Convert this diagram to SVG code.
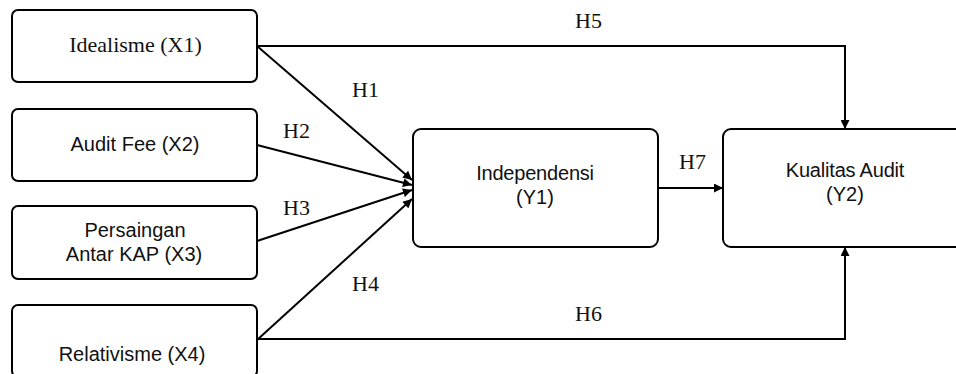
<svg xmlns="http://www.w3.org/2000/svg" width="956" height="374" viewBox="0 0 956 374">
  <defs>
    <marker id="arrow" viewBox="0 0 10 10" refX="10" refY="5" markerWidth="10" markerHeight="9" markerUnits="userSpaceOnUse" orient="auto">
      <path d="M0,0 L10,5 L0,10 Z" fill="#000"/>
    </marker>
    <style>
      .box { fill: #fff; stroke: #000; stroke-width: 2; }
      .sans { font-family: "Liberation Sans", Arial, sans-serif; font-size: 20px; fill: #111; text-anchor: middle; }
      .serif { font-family: "Liberation Serif", "Times New Roman", serif; font-size: 22px; fill: #111; }
      .mid { text-anchor: middle; }
      .edge { fill: none; stroke: #000; stroke-width: 2; marker-end: url(#arrow); }
    </style>
  </defs>
  <rect width="956" height="374" fill="#fff"/>

  <!-- connectors -->
  <g id="connectors">
    <path class="edge" d="M257,46 L412,180"/>
    <path class="edge" d="M257,145 L412,185"/>
    <path class="edge" d="M257,241 L412,190"/>
    <path class="edge" d="M257,340 L412,199"/>
    <path class="edge" d="M257,46 L845,46 L845,129"/>
    <path class="edge" d="M257,339 L845,339 L845,247"/>
    <path class="edge" d="M658,188 L723,188"/>
    <text class="serif" x="352" y="97">H1</text>
    <text class="serif" x="283" y="138">H2</text>
    <text class="serif" x="283" y="215">H3</text>
    <text class="serif" x="352" y="291">H4</text>
    <text class="serif" x="575" y="28">H5</text>
    <text class="serif" x="575" y="321">H6</text>
    <text class="serif" x="679" y="169">H7</text>
  </g>

  <!-- nodes -->
  <g id="x1">
    <rect class="box" x="12" y="10" width="245" height="72" rx="6"/>
    <text class="serif mid" x="135.5" y="52">Idealisme (X1)</text>
  </g>
  <g id="x2">
    <rect class="box" x="12" y="109" width="245" height="72" rx="6"/>
    <text class="sans" x="135" y="151">Audit Fee (X2)</text>
  </g>
  <g id="x3">
    <rect class="box" x="12" y="206" width="245" height="73" rx="6"/>
    <text class="sans" x="135" y="237">Persaingan</text>
    <text class="sans" x="134" y="261">Antar KAP (X3)</text>
  </g>
  <g id="x4">
    <rect class="box" x="12" y="305" width="245" height="72" rx="6"/>
    <text class="sans" x="132" y="361">Relativisme (X4)</text>
  </g>
  <g id="y1">
    <rect class="box" x="413" y="129" width="245" height="118" rx="8"/>
    <text class="sans" x="535" y="180" letter-spacing="-0.2">Independensi</text>
    <text class="sans" x="535" y="204">(Y1)</text>
  </g>
  <g id="y2">
    <rect class="box" x="723" y="129" width="245" height="118" rx="8"/>
    <text class="sans" x="845" y="177" letter-spacing="-0.2">Kualitas Audit</text>
    <text class="sans" x="845" y="201">(Y2)</text>
  </g>
</svg>
